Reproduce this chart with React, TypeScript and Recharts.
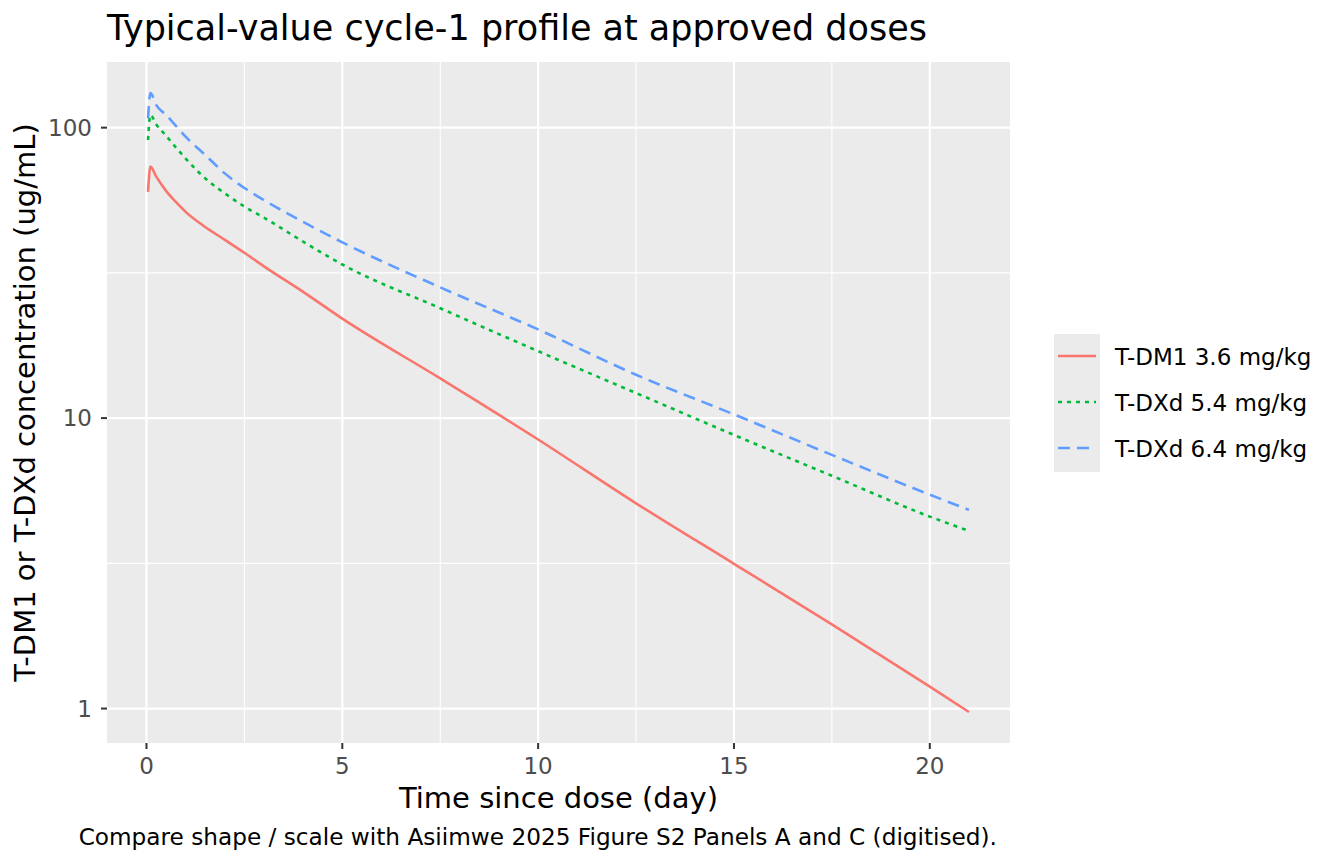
import { CartesianGrid, Line, LineChart, XAxis, YAxis } from "recharts";

// time since dose (day) and typical-value concentrations (ug/mL)
const times = [0.04, 0.1, 0.25, 0.5, 0.75, 1, 1.5, 2, 2.5, 3, 4, 5, 7.5, 10, 12.5, 15, 17.5, 20, 21];
const tdm1_36 = [60.1, 73.4, 67.8, 60.6, 55.5, 51.3, 45.5, 41.1, 37.1, 33.3, 27.2, 22.0, 13.7, 8.44, 5.09, 3.15, 1.95, 1.19, 0.973];
const tdxd_54 = [90.7, 110.6, 102.6, 93.8, 85.5, 78.3, 66.9, 59.4, 53.5, 49.0, 40.5, 33.8, 23.9, 17.0, 12.2, 8.75, 6.33, 4.58, 4.09];
const tdxd_64 = [107.7, 131.5, 119.6, 110.6, 101.5, 93.1, 80.5, 69.6, 62.0, 56.3, 47.4, 40.3, 28.2, 20.2, 14.1, 10.3, 7.47, 5.45, 4.83];

const xTicks = [0, 5, 10, 15, 20];
const xMinor = [2.5, 7.5, 12.5, 17.5];
const yTicks = [1, 10, 100];
const yMinor = [3.1623, 31.623];

const series = [
  { key: "tdm1", name: "T-DM1 3.6 mg/kg", color: "#F8766D", dash: undefined },
  { key: "tdxd54", name: "T-DXd 5.4 mg/kg", color: "#00BA38", dash: "4 5" },
  { key: "tdxd64", name: "T-DXd 6.4 mg/kg", color: "#619CFF", dash: "12 7" },
];

const data = times.map((t, i) => ({
  t,
  tdm1: tdm1_36[i],
  tdxd54: tdxd_54[i],
  tdxd64: tdxd_64[i],
}));

const font = "'DejaVu Sans', sans-serif";

export default function App() {
  return (
    <div style={{ position: "absolute", left: 0, top: 0, width: 1344, height: 864, background: "#fff", fontFamily: font }}>
      <LineChart
        width={1344}
        height={864}
        data={data}
        margin={{ top: 62, right: 334, bottom: 61, left: 7 }}
        style={{ fontFamily: font }}
      >
        <CartesianGrid
          fill="#EBEBEB"
          stroke="#FFFFFF"
          strokeWidth={1.1}
          horizontalValues={yMinor}
          verticalValues={xMinor}
        />
        <CartesianGrid
          stroke="#FFFFFF"
          strokeWidth={2.2}
          horizontalValues={yTicks}
          verticalValues={xTicks}
        />
        <XAxis
          dataKey="t"
          type="number"
          domain={[-1.008, 22.048]}
          ticks={xTicks}
          allowDataOverflow
          height={60}
          axisLine={false}
          tickSize={6}
          tickMargin={9}
          tickLine={{ stroke: "#333333", strokeWidth: 2 }}
          tick={{ fill: "#4D4D4D", fontSize: 23 }}
        />
        <YAxis
          scale="log"
          type="number"
          domain={[0.761, 168.3]}
          ticks={yTicks}
          allowDataOverflow
          width={100}
          axisLine={false}
          tickSize={6}
          tickMargin={9}
          tickLine={{ stroke: "#333333", strokeWidth: 2 }}
          tick={{ fill: "#4D4D4D", fontSize: 23 }}
        />
        {series.map((s) => (
          <Line
            key={s.key}
            dataKey={s.key}
            name={s.name}
            type="monotoneX"
            stroke={s.color}
            strokeWidth={2.6}
            strokeDasharray={s.dash}
            strokeLinecap="butt"
            strokeLinejoin="round"
            dot={false}
            activeDot={false}
            isAnimationActive={false}
          />
        ))}
      </LineChart>

      <div style={{ position: "absolute", left: 107, top: 11, fontSize: 35, lineHeight: 1, color: "#000", whiteSpace: "nowrap" }}>
        Typical-value cycle-1 profile at approved doses
      </div>

      <div
        style={{
          position: "absolute",
          left: 25 - 400,
          top: 402 - 14.5,
          width: 800,
          textAlign: "center",
          fontSize: 29,
          lineHeight: "29px",
          color: "#000",
          whiteSpace: "nowrap",
          transform: "rotate(-90deg)",
        }}
      >
        T-DM1 or T-DXd concentration (ug/mL)
      </div>

      <div style={{ position: "absolute", left: 158.5, top: 783.5, width: 800, textAlign: "center", fontSize: 29, lineHeight: 1, color: "#000", whiteSpace: "nowrap" }}>
        Time since dose (day)
      </div>

      <div style={{ position: "absolute", left: 0, top: 825, width: 997, textAlign: "right", fontSize: 23.2, lineHeight: 1, color: "#000", whiteSpace: "nowrap" }}>
        Compare shape / scale with Asiimwe 2025 Figure S2 Panels A and C (digitised).
      </div>

      <div style={{ position: "absolute", left: 1054, top: 334, width: 46, height: 138, background: "#EBEBEB" }} />
      {series.map((s, i) => (
        <div key={s.key}>
          <svg style={{ position: "absolute", left: 1054, top: 334 + i * 46, overflow: "visible" }} width={46} height={46}>
            <line x1={4} x2={42} y1={22} y2={22} stroke={s.color} strokeWidth={2.6} strokeDasharray={s.dash} />
          </svg>
          <div style={{ position: "absolute", left: 1115, top: 345.6 + i * 46, fontSize: 23, lineHeight: 1, color: "#000", whiteSpace: "nowrap" }}>
            {s.name}
          </div>
        </div>
      ))}
    </div>
  );
}
